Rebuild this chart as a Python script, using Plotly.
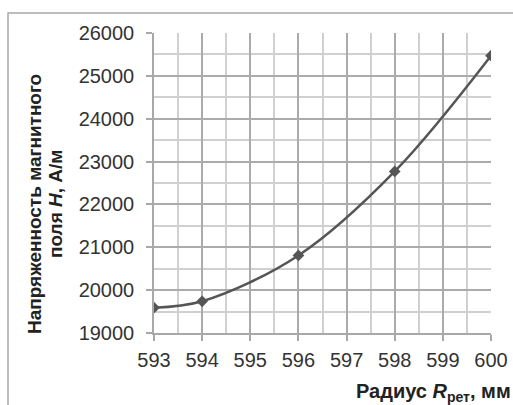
import plotly.graph_objects as go

# Radius of the ring (mm) and magnetic field strength (A/m)
radius_mm = [593, 594, 596, 598, 600]
field_h = [19590, 19740, 20810, 22770, 25470]

X_RANGE = [593, 600]
Y_RANGE = [19000, 26000]

W, H = 513, 405
ml, mr, mt, mb = 154, 22, 33, 72
pw, ph = W - ml - mr, H - mt - mb

FONT = "Liberation Sans, Arial, sans-serif"


def px_x(px):
    return (px - ml) / pw


def px_y(py):
    return 1 - (py - mt) / ph


fig = go.Figure()
fig.add_trace(go.Scatter(
    x=radius_mm, y=field_h,
    mode="lines+markers",
    line=dict(shape="spline", smoothing=1.0, color="#555555", width=2.5),
    marker=dict(symbol="diamond", size=9, color="#555555"),
    showlegend=False,
))

tick_font = dict(family=FONT, size=20, color="#333333")

fig.update_layout(
    xaxis=dict(
        range=X_RANGE, tickmode="linear", dtick=1, tick0=593, tickformat="d",
        showgrid=True, gridcolor="#ababab", gridwidth=1.5,
        minor=dict(tickmode="linear", dtick=1, tick0=593.5, showgrid=True,
                   gridcolor="#d0d0d0", gridwidth=1.5),
        showline=True, linecolor="#a8a8a8", linewidth=1.5,
        ticks="outside", ticklen=6, tickcolor="#a8a8a8", tickwidth=1.5,
        tickfont=tick_font, zeroline=False, automargin=False,
        ticklabelstandoff=2,
    ),
    yaxis=dict(
        range=Y_RANGE, tickmode="linear", dtick=1000, tick0=19000, tickformat="d",
        showgrid=True, gridcolor="#ababab", gridwidth=1.5,
        minor=dict(tickmode="linear", dtick=1000, tick0=19500, showgrid=True,
                   gridcolor="#d0d0d0", gridwidth=1.5),
        showline=True, linecolor="#a8a8a8", linewidth=1.5,
        ticks="outside", ticklen=6, tickcolor="#a8a8a8", tickwidth=1.5,
        tickfont=tick_font, zeroline=False, automargin=False,
        ticklabelstandoff=8,
    ),
)

# Outer frame
fig.add_shape(
    type="rect", xref="paper", yref="paper",
    x0=px_x(8), x1=px_x(W + 20),
    y0=px_y(H + 20), y1=px_y(13),
    line=dict(color="#a8a8a8", width=1.5), layer="below",
)

# Y-axis title (two rotated lines)
title_font = dict(family=FONT, size=19, color="#222222", weight="bold")
fig.add_annotation(
    text="Напряженность магнитного",
    xref="paper", yref="paper", x=px_x(35), y=px_y(204),
    xanchor="center", yanchor="middle", textangle=-90, showarrow=False,
    font=title_font,
)
fig.add_annotation(
    text="поля <i>H</i>, А/м",
    xref="paper", yref="paper", x=px_x(56), y=px_y(204),
    xanchor="center", yanchor="middle", textangle=-90, showarrow=False,
    font=title_font,
)

# X-axis title
fig.add_annotation(
    text="Радиус <i>R</i><sub>рет</sub>, мм",
    xref="paper", yref="paper",
    x=px_x(513), y=px_y(407),
    xanchor="right", yanchor="bottom", showarrow=False,
    font=dict(family=FONT, size=20, color="#222222", weight="bold"),
)

fig.update_layout(
    width=W, height=H,
    margin=dict(l=ml, r=mr, t=mt, b=mb, autoexpand=False),
    paper_bgcolor="white", plot_bgcolor="white",
)

fig.write_html("out.html")
